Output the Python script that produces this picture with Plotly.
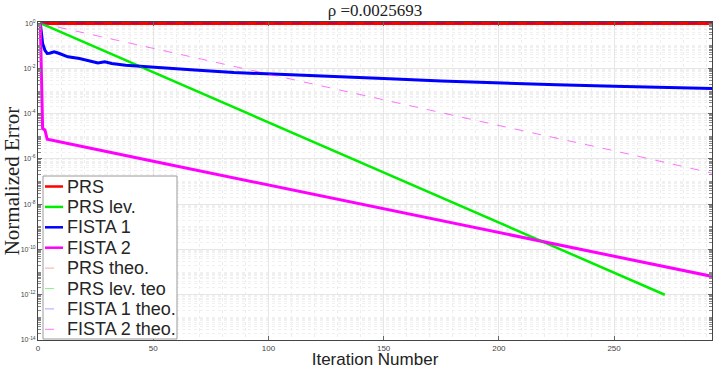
import plotly.graph_objects as go

# iteration numbers and normalized error values
it_prs = [1, 100, 200, 293]
err_prs = [0.97, 0.97, 0.97, 0.97]

it_lev = [1, 50, 100, 150, 200, 250, 272]
err_lev = [1.0, 6.8e-3, 4.2e-5, 2.5e-7, 1.55e-9, 9.4e-12, 1.0e-12]

it_f1 = [1, 2, 3, 4, 5, 7, 9, 13, 18, 22, 26, 29, 32, 38, 42, 46, 56, 68, 85,
         100, 125, 150, 175, 200, 225, 250, 275, 293]
err_f1 = [1.0, 0.126, 0.063, 0.0457, 0.0468, 0.0537, 0.0468, 0.0324, 0.0275,
          0.0214, 0.0174, 0.0195, 0.0166, 0.0138, 0.0129, 0.0117, 0.0102,
          0.0085, 0.0066, 0.00562, 0.00447, 0.00355, 0.00275, 0.00224,
          0.0019, 0.00162, 0.00141, 0.00129]

it_f2 = [1, 2, 3, 4, 50, 100, 150, 200, 250, 293]
err_f2 = [1.0, 2.2e-5, 1.9e-5, 7.4e-6, 7.9e-7, 7.1e-8, 6.3e-9, 5.6e-10,
          5.0e-11, 6.3e-12]

it_theo = [1, 100, 200, 293]
err_prs_theo = [1.0, 1.0, 1.0, 1.0]
err_f1_theo = [1.0, 1.0, 1.0, 1.0]
it_f2_theo = [1, 50, 100, 150, 200, 250, 293]
err_f2_theo = [1.0, 7.5e-2, 5.5e-3, 4.1e-4, 3.0e-5, 2.3e-6, 2.3e-7]

ytick_vals = [1e-14, 1e-12, 1e-10, 1e-8, 1e-6, 1e-4, 1e-2, 1e0]
ytick_text = ['10<sup>-14</sup>', '10<sup>-12</sup>', '10<sup>-10</sup>', '10<sup>-8</sup>',
              '10<sup>-6</sup>', '10<sup>-4</sup>', '10<sup>-2</sup>', '10<sup>0</sup>']

# plot area in pixels (used to place the MATLAB-style legend)
L, R, T, B = 38, 712, 22, 340
def px(x):
    return (x - L) / (R - L)
def py(y):
    return (B - y) / (B - T)

series = [
    ('PRS', it_prs, err_prs, '#ff0000', 3, 'solid'),
    ('PRS lev.', it_lev, err_lev, '#00ee00', 2.5, 'solid'),
    ('FISTA 1', it_f1, err_f1, '#0000ff', 3, 'solid'),
    ('FISTA 2', it_f2, err_f2, '#ff00ff', 3, 'solid'),
    ('PRS theo.', it_theo, err_prs_theo, 'rgba(255,0,0,0.35)', 1, 'dash'),
    ('PRS lev. teo', it_lev, err_lev, 'rgba(0,230,0,0.45)', 1, 'dash'),
    ('FISTA 1 theo.', it_theo, err_f1_theo, 'rgba(0,0,255,0.35)', 1, 'dash'),
    ('FISTA 2 theo.', it_f2_theo, err_f2_theo, 'rgba(255,0,255,0.55)', 1, 'dash'),
]

fig = go.Figure()
for name, x, y, c, w, d in series:
    fig.add_trace(go.Scatter(x=x, y=y, mode='lines', name=name, showlegend=False,
                             line=dict(color=c, width=w, dash=d)))

# legend box
shapes = [dict(type='rect', xref='paper', yref='paper',
               x0=px(43), x1=px(177), y0=py(339), y1=py(176),
               line=dict(color='#9a9a9a', width=1), fillcolor='white')]
annotations = []
for i, (name, x, y, c, w, d) in enumerate(series):
    yy = 186.5 + i * 20.4
    shapes.append(dict(type='line', xref='paper', yref='paper',
                       x0=px(45), x1=px(63), y0=py(yy), y1=py(yy),
                       line=dict(color=c, width=min(w, 2.5), dash=d)))
    annotations.append(dict(text=name, xref='paper', yref='paper',
                            x=px(65), y=py(yy), xanchor='left', yanchor='middle',
                            showarrow=False,
                            font=dict(family='Liberation Sans', size=18, color='#262626')))

fig.update_layout(
    width=714, height=369,
    margin=dict(l=L, r=714 - R, t=T, b=369 - B),
    plot_bgcolor='white',
    paper_bgcolor='white',
    showlegend=False,
    shapes=shapes,
    annotations=annotations,
    title=dict(text='ρ =0.0025693', x=375 / 714, xanchor='center', y=1 - 10 / 369, yanchor='middle',
               font=dict(family='Liberation Serif', size=17, color='#222')),
)

fig.update_xaxes(
    range=[0, 292.5],
    tickvals=[0, 50, 100, 150, 200, 250],
    ticks='inside', ticklen=4, tickcolor='#666',
    tickfont=dict(family='Liberation Sans', size=8, color='#444'),
    showline=True, linecolor='#444', mirror='ticks',
    showgrid=True, gridcolor='#e6e6e6', zeroline=False,
    minor=dict(dtick=10, showgrid=True, gridcolor='#ededed', griddash='dot'),
    title=dict(text='Iteration Number', standoff=4,
               font=dict(family='Liberation Sans', size=17, color='#222')),
)

fig.update_yaxes(
    type='log', range=[-14, 0.05],
    tickvals=ytick_vals, ticktext=ytick_text,
    ticks='inside', ticklen=4, tickcolor='#666',
    tickfont=dict(family='Liberation Sans', size=7, color='#444'),
    showline=True, linecolor='#444', mirror='ticks',
    showgrid=True, gridcolor='#e6e6e6', zeroline=False,
    minor=dict(dtick='D1', ticks='inside', ticklen=3, tickcolor='#888',
               showgrid=True, gridcolor='#f0f0f0', griddash='dot'),
    title=dict(text='Normalized Error', standoff=2,
               font=dict(family='Liberation Serif', size=21, color='#222')),
)

fig.write_html('out.html', config={'displayModeBar': False},
               post_script="document.body.style.margin='0px';")
